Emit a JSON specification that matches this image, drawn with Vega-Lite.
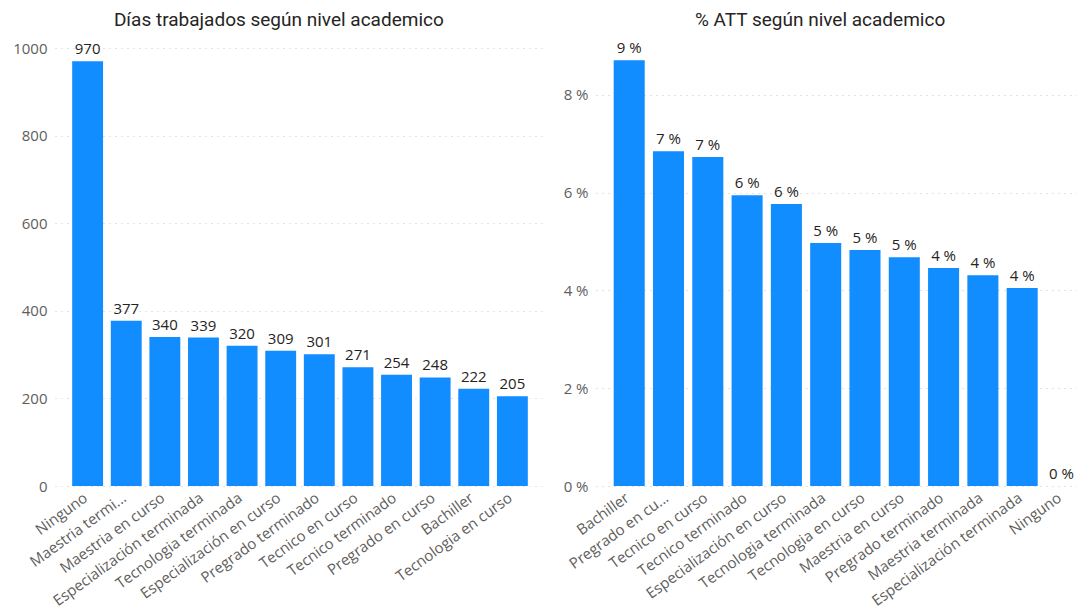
{
  "$schema": "https://vega.github.io/schema/vega-lite/v6.json",
  "background": "white",
  "padding": {"left": 12, "top": 11, "right": 0, "bottom": 0},
  "spacing": 18,
  "config": {
    "view": {"stroke": null},
    "axis": {"labelFont": "Open Sans", "labelFontSize": 15, "labelColor": "#605E5C", "ticks": false, "domain": false, "gridColor": "#C8C6C4", "gridDash": [1, 5], "labelPadding": 8, "labelLimit": 300},
    "title": {"font": "Roboto", "fontSize": 19, "fontWeight": "normal", "color": "#252423", "anchor": "middle", "frame": "bounds", "offset": 11}
  },
  "hconcat": [
    {
      "title": "Días trabajados según nivel academico",
      "width": 490,
      "height": 438,
      "data": {"values": [
        {"nivel": "Ninguno", "dias": 970},
        {"nivel": "Maestria terminada", "dias": 377},
        {"nivel": "Maestria en curso", "dias": 340},
        {"nivel": "Especialización terminada", "dias": 339},
        {"nivel": "Tecnologia terminada", "dias": 320},
        {"nivel": "Especialización en curso", "dias": 309},
        {"nivel": "Pregrado terminado", "dias": 301},
        {"nivel": "Tecnico en curso", "dias": 271},
        {"nivel": "Tecnico terminado", "dias": 254},
        {"nivel": "Pregrado en curso", "dias": 248},
        {"nivel": "Bachiller", "dias": 222},
        {"nivel": "Tecnologia en curso", "dias": 205}
      ]},
      "encoding": {
        "x": {"field": "nivel", "type": "nominal", "sort": null, "title": null,
          "scale": {"paddingInner": 0.2, "paddingOuter": 0.445},
          "axis": {"labelAngle": -36, "labelPadding": 4, "labelOffset": -6, "labelExpr": "datum.value == 'Maestria terminada' ? 'Maestria termi...' : datum.value"}},
        "y": {"field": "dias", "type": "quantitative", "title": null,
          "scale": {"domain": [0, 1000], "nice": false},
          "axis": {"values": [0, 200, 400, 600, 800, 1000], "grid": true, "format": "d"}}
      },
      "layer": [
        {"mark": {"type": "bar", "color": "#118DFF"}},
        {"mark": {"type": "text", "baseline": "bottom", "dy": -4, "font": "Open Sans", "fontSize": 15, "color": "#252423"},
         "encoding": {"text": {"field": "dias", "type": "quantitative"}}}
      ]
    },
    {
      "title": "% ATT según nivel academico",
      "width": 481,
      "height": 438,
      "data": {"values": [
        {"nivel": "Bachiller", "att": 8.71},
        {"nivel": "Pregrado en curso", "att": 6.85},
        {"nivel": "Tecnico en curso", "att": 6.73},
        {"nivel": "Tecnico terminado", "att": 5.95},
        {"nivel": "Especialización en curso", "att": 5.77},
        {"nivel": "Tecnologia terminada", "att": 4.97},
        {"nivel": "Tecnologia en curso", "att": 4.83},
        {"nivel": "Maestria en curso", "att": 4.68},
        {"nivel": "Pregrado terminado", "att": 4.46},
        {"nivel": "Maestria terminada", "att": 4.31},
        {"nivel": "Especialización terminada", "att": 4.05},
        {"nivel": "Ninguno", "att": 0}
      ]},
      "encoding": {
        "x": {"field": "nivel", "type": "nominal", "sort": null, "title": null,
          "scale": {"paddingInner": 0.21, "paddingOuter": 0.225, "align": 1},
          "axis": {"labelAngle": -36, "labelPadding": 4, "labelOffset": -6, "labelExpr": "datum.value == 'Pregrado en curso' ? 'Pregrado en cu...' : datum.value"}},
        "y": {"field": "att", "type": "quantitative", "title": null,
          "scale": {"domain": [0, 8.96], "nice": false},
          "axis": {"values": [0, 2, 4, 6, 8], "grid": true, "labelExpr": "datum.value + ' %'"}}
      },
      "layer": [
        {"mark": {"type": "bar", "color": "#118DFF"}},
        {"mark": {"type": "text", "baseline": "bottom", "dy": -4, "font": "Open Sans", "fontSize": 15, "color": "#252423",
          "text": {"expr": "format(datum.att, '.0f') + ' %'"}}}
      ]
    }
  ]
}
